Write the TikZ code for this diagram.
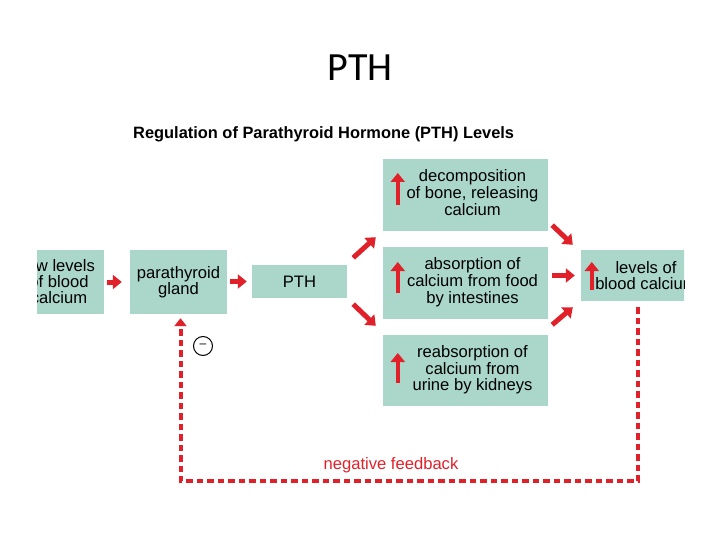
\documentclass[tikz,border=0pt]{standalone}
\usepackage{fontspec}
\setmainfont{Liberation Sans}
\newfontfamily\titlefont{Carlito}
\usetikzlibrary{arrows.meta}
\definecolor{boxgreen}{RGB}{170,215,202}
\definecolor{arrred}{RGB}{225,33,42}
\newcommand{\padtext}[1]{\hspace*{14pt}\begin{tabular}{@{}c@{}}#1\end{tabular}}
\begin{document}
\begin{tikzpicture}[x=1pt,y=-1pt,
    box/.style={fill=boxgreen,inner sep=0pt,font=\fontsize{16.6}{16}\selectfont},
    arr/.style={draw=arrred,line width=5pt,-{Triangle[length=9pt,width=14pt]}},
    fb/.style={draw=arrred,line width=4pt,dash pattern=on 6.5pt off 4pt,
      -{Triangle[length=8pt,width=12pt]}}]
  \useasboundingbox (0,0) rectangle (720,540);
  \draw
    (360,68) node[font=\titlefont\fontsize{40}{40}\selectfont] (title){PTH}
    (133,134) node[anchor=west,inner sep=0pt,font=\bfseries\fontsize{16.4}{16.4}\selectfont] (sub){Regulation of Parathyroid Hormone (PTH) Levels};
  \begin{scope}
    \clip (37,0) rectangle (684,540);
    \draw
      (59,282) node[box,align=center,minimum width=90,minimum height=64] (low){low levels\\of blood\\calcium}
      (178.5,282) node[box,align=center,minimum width=97,minimum height=64] (gland){parathyroid\\gland}
      (299.5,281.5) node[box,minimum width=95,minimum height=33] (pth){PTH}
      (465.5,195) node[box,minimum width=165,minimum height=72] (dec){\padtext{decomposition\\of bone, releasing\\calcium}}
      (465.5,283) node[box,minimum width=165,minimum height=72] (abs){\padtext{absorption of\\calcium from food\\by intestines}}
      (465.5,370.5) node[box,minimum width=165,minimum height=71] (reab){\padtext{reabsorption of\\calcium from\\urine by kidneys}}
      (646,275.5) node[box,align=center,minimum width=130,minimum height=51] (lvl){levels of\\blood calcium}
      (203,346) node[circle,draw,line width=1pt,minimum size=19,inner sep=0pt,font=\fontsize{12}{12}\selectfont] (neg){--}
      (391,465) node[text=arrred,font=\fontsize{16.6}{16.6}\selectfont] (fbtext){negative feedback};
    \begin{scope}[arr]
      \draw[shorten <=3pt,shorten >=8pt] (low) to (gland);
      \draw[shorten <=3pt,shorten >=5pt] (gland.east |- pth.west) to (pth.west);
      \draw ([shift={(6,-7)}]pth.north east) to ([shift={(-7,6)}]dec.south west);
      \draw ([shift={(6,6)}]pth.south east) to ([shift={(-7,-9)}]reab.north west);
      \draw ([shift={(4,-6)}]dec.south east) to ([shift={(-8,-5)}]lvl.north west);
      \draw[shorten <=4pt,shorten >=6pt] (abs.east |- lvl.west) to (lvl.west);
      \draw ([shift={(4,-10)}]reab.north east) to ([shift={(-8,6)}]lvl.south west);
      \draw[line width=4pt] ([shift={(15,10)}]dec.west) to ++(0,-32);
      \draw[line width=4pt] ([shift={(15,10)}]abs.west) to ++(0,-31);
      \draw[line width=4pt] ([shift={(15,12.5)}]reab.west) to ++(0,-30);
      \draw[line width=4pt] ([shift={(11,14.5)}]lvl.west) to ++(0,-28);
    \end{scope}
    \draw[fb] ([shift={(-8,6)}]lvl.south) -- ++(0,174) -| ([shift={(2,4)}]gland.south);
  \end{scope}
\end{tikzpicture}
\end{document}
